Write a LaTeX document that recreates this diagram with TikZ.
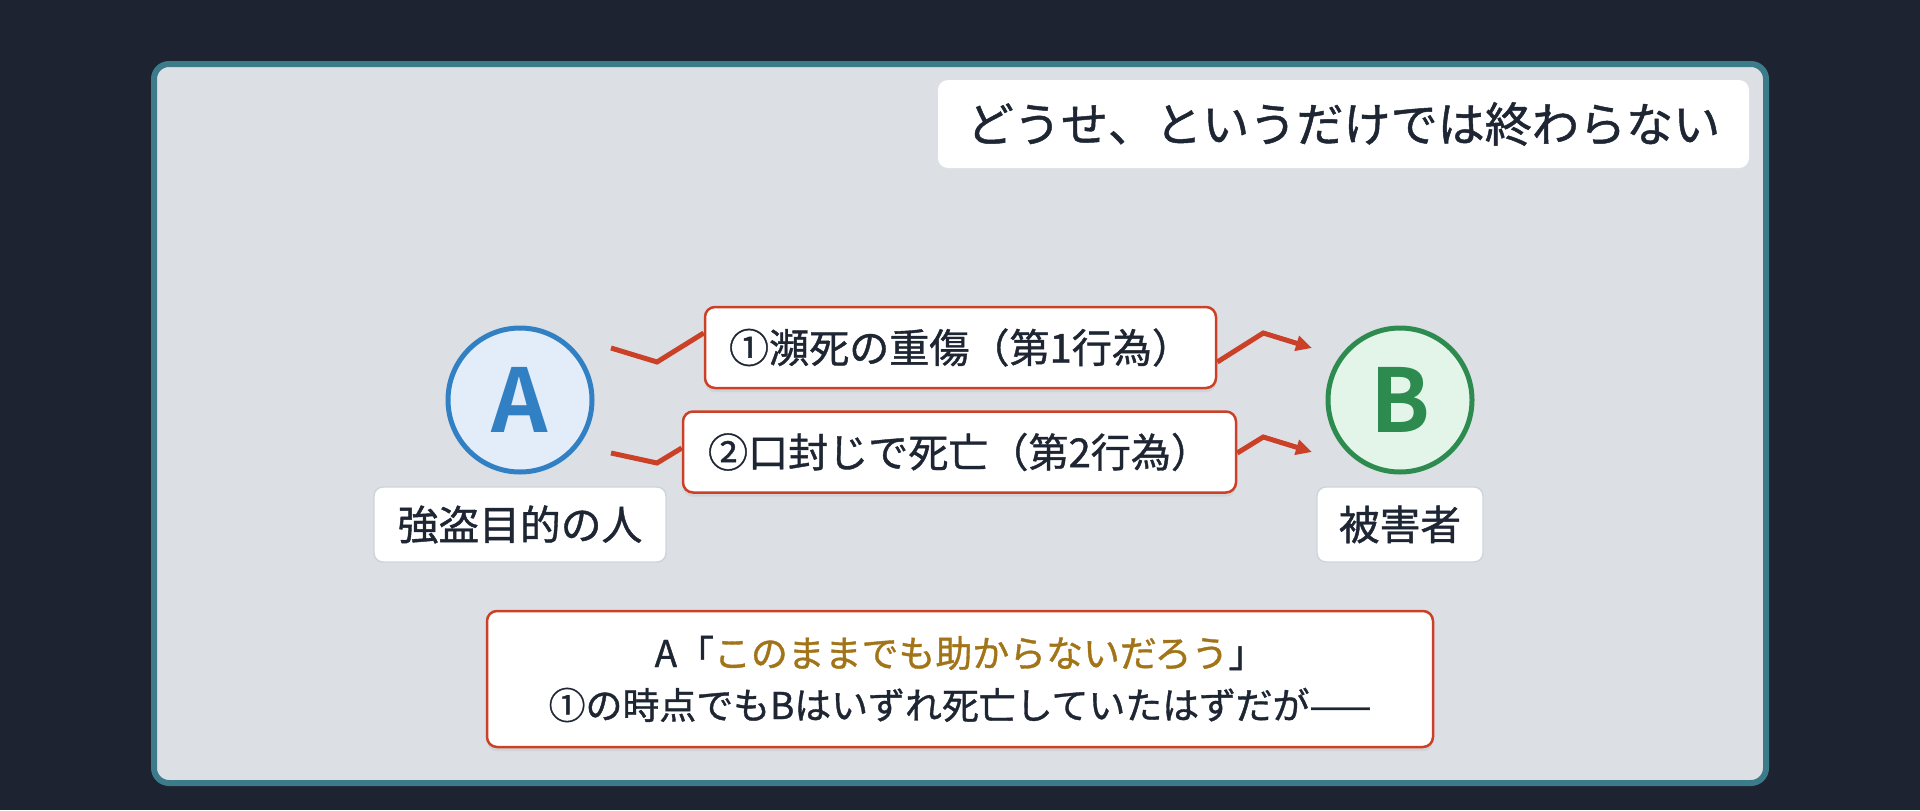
\documentclass[tikz,border=0pt]{standalone}
\usepackage{fontspec}
\setmainfont{Noto Sans CJK JP}[FakeBold=1]
\newfontfamily\letterfont{Noto Sans CJK JP Bold}
\usetikzlibrary{arrows.meta,shadows}

\definecolor{bgdark}{HTML}{1D2330}
\definecolor{panelfill}{HTML}{DCE0E5}
\definecolor{panelline}{HTML}{3B7B8A}
\definecolor{ink}{HTML}{1E2633}
\definecolor{blueA}{HTML}{3280C4}
\definecolor{bluefill}{HTML}{E3EDF9}
\definecolor{greenB}{HTML}{2E8B50}
\definecolor{greenfill}{HTML}{E3F5E8}
\definecolor{redline}{HTML}{CB4128}
\definecolor{gold}{HTML}{A27418}
\definecolor{tagline}{HTML}{CCD4DF}

\tikzset{
  person/.style={circle,draw=#1,line width=0.05cm,minimum size=1.44cm,inner sep=0pt,text=#1,font=\fontsize{25pt}{28pt}\letterfont},
  tagbox/.style={fill=white,draw=tagline,line width=0.4pt,rounded corners=0.09cm,minimum height=0.75cm,text=ink,font=\fontsize{11.6pt}{14pt}\selectfont},
  actbox/.style={fill=white,draw=redline,line width=0.025cm,rounded corners=0.1cm,minimum height=0.81cm,text=ink,font=\fontsize{11.4pt}{14pt}\selectfont,drop shadow={shadow xshift=0pt,shadow yshift=-1.2pt,opacity=0.12}},
  zig/.style={draw=redline,line width=0.05cm},
  tip/.style={-{Triangle[length=0.16cm,width=0.15cm]}}
}

\begin{document}
\begin{tikzpicture}
\fill [bgdark] (0, 0) rectangle (19.2, 8.1);
\draw [panelline,fill=panelfill,line width=0.06cm,rounded corners=0.15cm] (1.54, 0.27) rectangle (17.66, 7.46);

\node (title) at (13.435, 6.86) [fill=white,rounded corners=0.1cm,minimum width=8.11cm,minimum height=0.88cm,text=ink,font=\fontsize{13.4pt}{16pt}\selectfont] {どうせ、というだけでは終わらない};

% the two people
\node (A) at (5.2, 4.1) [person=blueA,fill=bluefill] {A};
\node (B) at (14, 4.1) [person=greenB,fill=greenfill] {B};
\node (Atag) at (5.2, 2.855) [tagbox,minimum width=2.92cm] {強盗目的の人};
\node (Btag) at (14, 2.855) [tagbox,minimum width=1.66cm] {被害者};

% the two acts
\node (act1) at (9.605, 4.625) [actbox,minimum width=5.11cm] {①瀕死の重傷（第1行為）};
\node (act2) at (9.595, 3.58) [actbox,minimum width=5.53cm] {②口封じで死亡（第2行為）};

\draw [zig] ([shift={(0.91,0.52)}]A.center) -- ++(0.46,-0.14) -- ([yshift=0.145cm]act1.west);
\draw [zig,tip] ([yshift=-0.145cm]act1.east) -- ++(0.46,0.29) -- ([shift={(-0.135,0.52)}]B.west);
\draw [zig] ([shift={(0.91,-0.53)}]A.center) -- ++(0.46,-0.10) -- ([yshift=0.04cm]act2.west);
\draw [zig,tip] ([yshift=-0.01cm]act2.east) -- ++(0.26,0.16) -- ([shift={(-0.135,-0.52)}]B.west);

\node (note) at (9.6, 1.31) [actbox,minimum width=9.46cm,minimum height=1.36cm,align=center,font=\fontsize{10.5pt}{14.8pt}\selectfont] {A「\textcolor{gold}{このままでも助からないだろう}」\\①の時点でもBはいずれ死亡していたはずだが——};
\end{tikzpicture}
\end{document}
